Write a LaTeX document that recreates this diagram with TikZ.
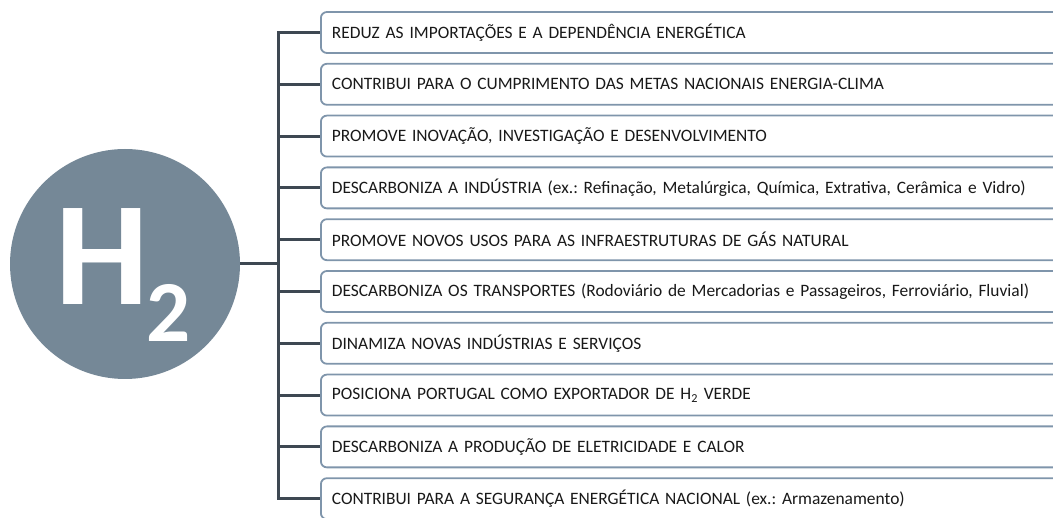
\documentclass[tikz,border=0pt]{standalone}
\usepackage{fontspec}
\setmainfont{Carlito}
\frenchspacing
\definecolor{circ}{HTML}{758897}
\definecolor{conn}{HTML}{3E4852}
\definecolor{bord}{HTML}{7F95AB}
\tikzset{
  connline/.style={draw=conn, line width=3pt, line join=miter},
  itembox/.style={draw=bord, line width=1.8pt, fill=white, rounded corners=6pt,
     anchor=west, minimum height=41pt, text width=760pt, inner xsep=11pt,
     align=left, font=\fontsize{17.4}{19}\selectfont, text=black!90},
  hnode/.style={circle, fill=circ, minimum size=230pt, inner sep=0pt}
}
\begin{document}
\begin{tikzpicture}[x=1pt,y=-1pt]
\useasboundingbox (0,0) rectangle (1053,518);
\clip (0,0) rectangle (1053,518);
\node[hnode] (h2) at (125,264) {};
\node[text=white, font=\fontsize{148}{148}\bfseries\selectfont, anchor=base west, inner sep=0pt] (hl) at (55,305) {H};
\node[text=white, font=\fontsize{87}{87}\bfseries\selectfont, anchor=base west, inner sep=0pt] (hs) at (146,342) {2};
\foreach \i/\t in {
 0/{REDUZ AS IMPORTAÇÕES E A DEPENDÊNCIA ENERGÉTICA},
 1/{CONTRIBUI PARA O CUMPRIMENTO DAS METAS NACIONAIS ENERGIA-CLIMA},
 2/{PROMOVE INOVAÇÃO, INVESTIGAÇÃO E DESENVOLVIMENTO},
 3/{DESCARBONIZA A INDÚSTRIA (ex.: Refinação, Metalúrgica, Química, Extrativa, Cerâmica e Vidro)},
 4/{PROMOVE NOVOS USOS PARA AS INFRAESTRUTURAS DE GÁS NATURAL},
 5/{DESCARBONIZA OS TRANSPORTES (Rodoviário de Mercadorias e Passageiros, Ferroviário, Fluvial)},
 6/{DINAMIZA NOVAS INDÚSTRIAS E SERVIÇOS},
 7/{POSICIONA PORTUGAL COMO EXPORTADOR DE H\textsubscript{2} VERDE},
 8/{DESCARBONIZA A PRODUÇÃO DE ELETRICIDADE E CALOR},
 9/{CONTRIBUI PARA A SEGURANÇA ENERGÉTICA NACIONAL (ex.: Armazenamento)}} {
  \node[itembox] (b\i) at (320,{32.5+51.8*\i}) {\t};
  \coordinate (t\i) at (278,{32.5+51.8*\i});
}
\draw[connline] (b0.west) -- (t0) -- (t9) -- (b9.west);
\foreach \i in {1,...,8} { \draw[connline] (t\i) -- (b\i.west); }
\draw[connline] (h2.east) -- (h2.east -| t0);
\end{tikzpicture}
\end{document}
